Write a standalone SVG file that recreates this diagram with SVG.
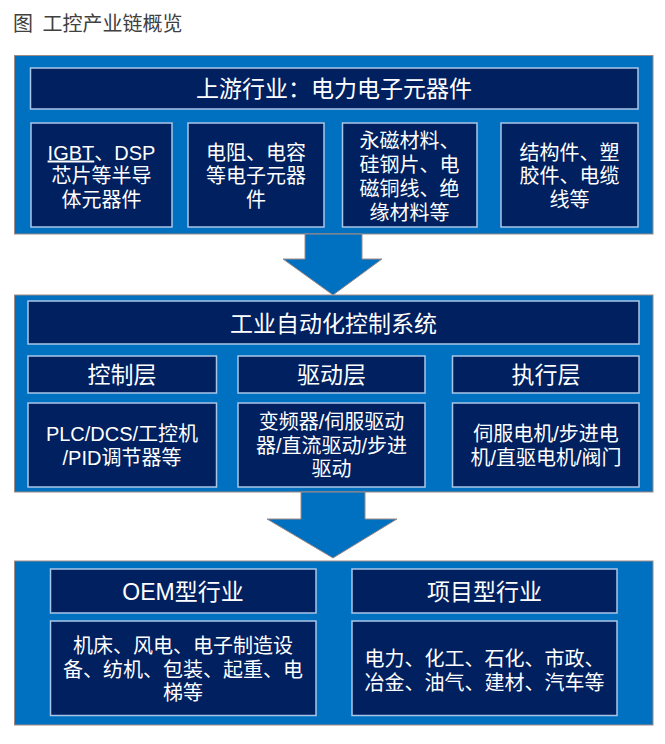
<svg xmlns="http://www.w3.org/2000/svg" width="665" height="744" viewBox="0 0 665 744">
<style>
.panel{fill:#0070C0;stroke:#A08A84;stroke-width:1}
.box{fill:#002060;stroke:#A9C6E8;stroke-width:1.5}
.arrow{fill:#0070C0;stroke:#A08A84;stroke-width:1}
text{font-family:"Liberation Sans","Noto Sans CJK SC",sans-serif;fill:#FFFFFF;text-anchor:middle}
.h{font-size:23px}
.t{font-size:20px}
.title{font-size:20px;fill:#404040;text-anchor:start}
</style>
<rect width="665" height="744" fill="#FFFFFF"/>
<text class="title" x="13" y="31">图</text>
<text class="title" x="42.5" y="31">工控产业链概览</text>

<g id="panel-upstream">
<rect class="panel" x="14.5" y="55.5" width="638.5" height="178.5"/>
<g id="upstream-header"><rect class="box" x="30.5" y="68" width="607.5" height="41"/><text class="h" x="334" y="97">上游行业：电力电子元器件</text></g>
<g id="up-semis"><rect class="box" x="31" y="123" width="141" height="104"/>
<text class="t" x="101.5" y="159.5"><tspan text-decoration="underline">IGBT</tspan>、DSP</text>
<text class="t" x="101.5" y="183">芯片等半导</text>
<text class="t" x="101.5" y="206.5">体元器件</text></g>
<g id="up-passive"><rect class="box" x="188" y="123" width="136" height="104"/>
<text class="t" x="256" y="159.5">电阻、电容</text>
<text class="t" x="256" y="183">等电子元器</text>
<text class="t" x="256" y="206.5">件</text></g>
<g id="up-materials"><rect class="box" x="342.5" y="123" width="134.5" height="104"/>
<text class="t" x="409.5" y="147.5">永磁材料、</text>
<text class="t" x="409.5" y="171.5">硅钢片、电</text>
<text class="t" x="409.5" y="195.5">磁铜线、绝</text>
<text class="t" x="409.5" y="219.5">缘材料等</text></g>
<g id="up-struct"><rect class="box" x="501" y="123" width="137" height="104"/>
<text class="t" x="569.5" y="159.5">结构件、塑</text>
<text class="t" x="569.5" y="183">胶件、电缆</text>
<text class="t" x="569.5" y="206.5">线等</text></g>
</g>

<g id="panel-automation">
<rect class="panel" x="14.5" y="295" width="638.5" height="197"/>
<g id="automation-header"><rect class="box" x="28" y="301" width="611" height="43"/><text class="h" x="333.5" y="331.5">工业自动化控制系统</text></g>
<g id="control-layer"><rect class="box" x="28" y="356" width="188.5" height="37"/><text class="h" x="122" y="383">控制层</text>
<rect class="box" x="28" y="403" width="188.5" height="84"/>
<text class="t" x="122" y="440.5">PLC/DCS/工控机</text>
<text class="t" x="122" y="465">/PID调节器等</text></g>
<g id="drive-layer"><rect class="box" x="238" y="356" width="187" height="37"/><text class="h" x="331.5" y="383">驱动层</text>
<rect class="box" x="238" y="403" width="187" height="84"/>
<text class="t" x="331.5" y="429">变频器/伺服驱动</text>
<text class="t" x="331.5" y="452.5">器/直流驱动/步进</text>
<text class="t" x="331.5" y="476">驱动</text></g>
<g id="exec-layer"><rect class="box" x="452.5" y="356" width="186.5" height="37"/><text class="h" x="546" y="383">执行层</text>
<rect class="box" x="452.5" y="403" width="186.5" height="84"/>
<text class="t" x="546" y="440.5">伺服电机/步进电</text>
<text class="t" x="546" y="465">机/直驱电机/阀门</text></g>
</g>

<g id="panel-downstream">
<rect class="panel" x="14.5" y="561" width="638.5" height="164"/>
<g id="oem"><rect class="box" x="50.5" y="569" width="265.5" height="44"/><text class="h" x="183" y="599.5">OEM型行业</text>
<rect class="box" x="50.5" y="621" width="265.5" height="94.5"/>
<text class="t" x="183" y="653">机床、风电、电子制造设</text>
<text class="t" x="183" y="676.5">备、纺机、包装、起重、电</text>
<text class="t" x="183" y="699.5">梯等</text></g>
<g id="project"><rect class="box" x="352" y="569" width="265" height="44"/><text class="h" x="484.5" y="599.5">项目型行业</text>
<rect class="box" x="352" y="621" width="265" height="94.5"/>
<text class="t" x="484.5" y="666">电力、化工、石化、市政、</text>
<text class="t" x="484.5" y="689.5">冶金、油气、建材、汽车等</text></g>
</g>

<g id="connectors">
<path class="arrow" d="M305,234 L362,234 L362,259 L382,259 L333,295 L283,259 L305,259 Z"/>
<path class="arrow" d="M301,492 L365,492 L365,519 L397,519 L333,558 L267,519 L301,519 Z"/>
</g>
</svg>
